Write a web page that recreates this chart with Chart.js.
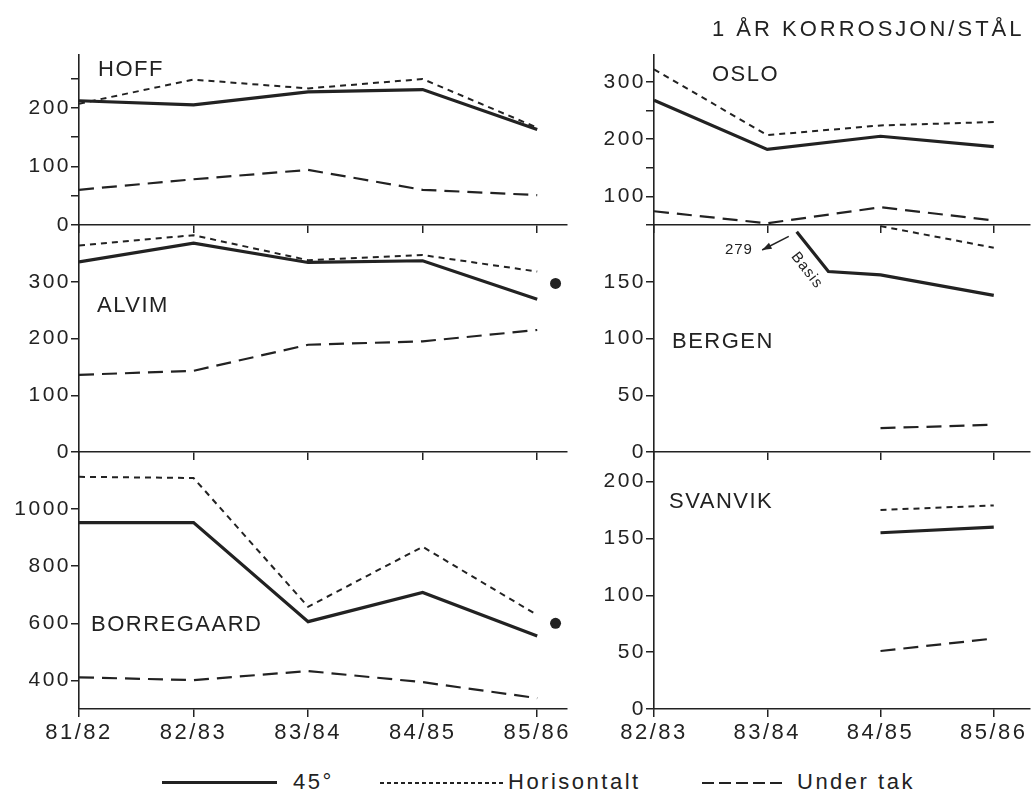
<!DOCTYPE html>
<html>
<head>
<meta charset="utf-8">
<script src="https://cdn.jsdelivr.net/npm/chart.js@4.4.1/dist/chart.umd.min.js"></script>
<style>
  html, body { margin: 0; padding: 0; background: #fff; }
  #page { position: relative; width: 1032px; height: 795px; overflow: hidden; font-family: "Liberation Sans", Arial, sans-serif; color: #222; }
  #page canvas { position: absolute; }
  .lbl { position: absolute; font-size: 22px; line-height: 22px; letter-spacing: 1.5px; white-space: nowrap; }
  .big { font-size: 22px; line-height: 22px; letter-spacing: 2.5px; }
  .key { position: absolute; }
</style>
</head>
<body>
<div id="page">
  <canvas id="hoff" width="587" height="204" style="left:0;top:35px"></canvas>
  <canvas id="alvim" width="587" height="261" style="left:0;top:205px"></canvas>
  <canvas id="borregaard" width="587" height="317" style="left:0;top:432px"></canvas>
  <canvas id="oslo" width="458" height="204" style="left:574px;top:35px"></canvas>
  <canvas id="bergen" width="458" height="261" style="left:574px;top:205px"></canvas>
  <canvas id="svanvik" width="458" height="317" style="left:574px;top:432px"></canvas>

  <div class="lbl big" style="left:712px;top:18px;letter-spacing:3px">1 ÅR KORROSJON/STÅL</div>
  <div class="lbl" style="left:98px;top:58px">HOFF</div>
  <div class="lbl" style="left:97px;top:294px">ALVIM</div>
  <div class="lbl" style="left:91px;top:613px">BORREGAARD</div>
  <div class="lbl" style="left:712px;top:63px">OSLO</div>
  <div class="lbl" style="left:672px;top:330px">BERGEN</div>
  <div class="lbl" style="left:669px;top:490px">SVANVIK</div>

  <div class="key" style="left:162px;top:781px;width:115px;height:3px;background:#222"></div>
  <div class="lbl big" style="left:293px;top:771px">45°</div>
  <div class="key" style="left:380px;top:782px;width:123px;height:2px;background:repeating-linear-gradient(to right,#222 0 4px,transparent 4px 7px)"></div>
  <div class="lbl big" style="left:508px;top:771px">Horisontalt</div>
  <div class="key" style="left:702px;top:782px;width:84px;height:2px;background:repeating-linear-gradient(to right,#222 0 12px,transparent 12px 17px)"></div>
  <div class="lbl big" style="left:797px;top:771px">Under tak</div>
</div>

<script>
const leftYears = ["81/82", "82/83", "83/84", "84/85", "85/86"];
const rightYears = ["82/83", "83/84", "84/85", "85/86"];

// HOFF
const hoff45 = [212, 205, 227, 231, 163];
const hoffHorisontalt = [207, 248, 233, 249, 166];
const hoffUnderTak = [60, 78, 94, 60, 51];
const hoffTicks = [0, 50, 100, 150, 200, 250];
const hoffLabels = [0, 100, 200];

// ALVIM
const alvim45 = [335, 368, 334, 337, 269];
const alvimHorisontalt = [364, 382, 338, 347, 318];
const alvimUnderTak = [136, 143, 189, 195, 215];
const alvimDot = 297;
const alvimTicks = [0, 100, 200, 300];

// BORREGAARD
const borregaard45 = [953, 953, 606, 708, 556];
const borregaardHorisontalt = [1113, 1109, 658, 868, 629];
const borregaardUnderTak = [411, 401, 433, 394, 338];
const borregaardDot = 600;
const borregaardTicks = [400, 600, 800, 1000];

// extra point right of 85/86 (category index)
const dotX = 4.16;

// OSLO
const oslo45 = [268, 182, 205, 187];
const osloHorisontalt = [322, 207, 224, 230];
const osloUnderTak = [74, 53, 81, 58];
const osloTicks = [50, 100, 150, 200, 250, 300];
const osloLabels = [100, 200, 300];

// BERGEN (45° starts below the off-scale 279 value)
const bergen45X = [1.26, 1.54, 2, 3];
const bergen45 = [194, 159, 156, 138];
const bergenHorisontalt = [null, null, 199, 180];
const bergenUnderTak = [null, null, 21, 24];
const bergenOffScale = 279;
const bergenTicks = [0, 50, 100, 150];

// SVANVIK
const svanvik45 = [null, null, 155, 160];
const svanvikHorisontalt = [null, null, 175, 179];
const svanvikUnderTak = [null, null, 51, 62];
const svanvikTicks = [0, 50, 100, 150, 200];

const ink = "#222";
Chart.defaults.font.family = '"Liberation Sans", Arial, sans-serif';
Chart.defaults.color = ink;

function pts(xs, ys) {
    return ys.map((y, i) => ({ x: xs[i], y: y }));
}

function lines(xs, v45, vHor, vTak, xs45) {
    return [
        { label: "45°", data: pts(xs45 || xs, v45), borderColor: ink, borderWidth: 3.2, pointRadius: 0, spanGaps: false },
        { label: "Horisontalt", data: pts(xs, vHor), borderColor: ink, borderWidth: 2, borderDash: [6, 5], pointRadius: 0, spanGaps: false },
        { label: "Under tak", data: pts(xs, vTak), borderColor: ink, borderWidth: 2.2, borderDash: [15, 8], pointRadius: 0, spanGaps: false }
    ];
}

function dot(y) {
    return { data: [{ x: dotX, y: y }], showLine: false, pointRadius: 5.5, pointBackgroundColor: ink, pointBorderWidth: 0 };
}

const spacing = {
    id: "spacing",
    beforeDraw(chart) { chart.ctx.letterSpacing = "2.5px"; }
};

const bergenNote = {
    id: "bergenNote",
    afterDatasetsDraw(chart) {
        const ctx = chart.ctx, x = chart.scales.x, y = chart.scales.y;
        ctx.save();
        ctx.fillStyle = ink;
        ctx.strokeStyle = ink;
        ctx.lineWidth = 1.6;
        ctx.font = '15px "Liberation Sans", Arial, sans-serif';
        ctx.letterSpacing = "1px";
        ctx.textAlign = "center";
        ctx.textBaseline = "middle";
        ctx.fillText(String(bergenOffScale), x.getPixelForValue(0.75), y.getPixelForValue(178));

        // arrow towards the label
        const x1 = x.getPixelForValue(1.19), y1 = y.getPixelForValue(190);
        const x2 = x.getPixelForValue(0.955), y2 = y.getPixelForValue(178);
        const a = Math.atan2(y2 - y1, x2 - x1);
        ctx.beginPath();
        ctx.moveTo(x1, y1);
        ctx.lineTo(x2, y2);
        ctx.stroke();
        ctx.beginPath();
        ctx.moveTo(x2, y2);
        ctx.lineTo(x2 - 10 * Math.cos(a - 0.35), y2 - 10 * Math.sin(a - 0.35));
        ctx.lineTo(x2 - 10 * Math.cos(a + 0.35), y2 - 10 * Math.sin(a + 0.35));
        ctx.closePath();
        ctx.fill();

        ctx.translate(x.getPixelForValue(1.35), y.getPixelForValue(160));
        ctx.rotate(52 * Math.PI / 180);
        ctx.fillText("Basis", 0, 0);
        ctx.restore();
    }
};

function makePanel(id, opts) {
    const yW = opts.right ? 80 : 79;
    const labels = opts.right ? rightYears : leftYears;
    const shown = opts.yLabels || opts.yTicks;
    new Chart(document.getElementById(id), {
        type: "line",
        data: { datasets: opts.datasets },
        options: {
            responsive: false,
            devicePixelRatio: 1,
            animation: false,
            layout: { padding: { top: 20, right: opts.right ? 2 : 20, bottom: 0, left: 0 } },
            plugins: { legend: { display: false }, tooltip: { enabled: false } },
            scales: {
                x: {
                    type: "linear",
                    min: 0,
                    max: opts.right ? 3.32 : 4.26,
                    afterBuildTicks: s => { s.ticks = labels.map((_, i) => ({ value: i })); },
                    afterFit: s => { s.height = opts.bottom ? 40 : 14; },
                    ticks: { display: !!opts.bottom, callback: v => labels[v], font: { size: 22 }, color: ink, padding: 3, maxRotation: 0, autoSkip: false },
                    grid: { drawOnChartArea: false, tickLength: 8, color: ink, lineWidth: 1.5 },
                    border: { color: ink, width: 1.6 }
                },
                y: {
                    type: "linear",
                    min: opts.yMin,
                    max: opts.yMax,
                    afterBuildTicks: s => { s.ticks = opts.yTicks.map(v => ({ value: v })); },
                    afterFit: s => { s.width = yW; },
                    ticks: { callback: v => shown.includes(v) ? String(v) : "", font: { size: 21 }, color: ink, padding: 0 },
                    grid: { drawOnChartArea: false, tickLength: 8, color: ink, lineWidth: 1.5 },
                    border: { color: ink, width: 1.6 }
                }
            }
        },
        plugins: [spacing].concat(opts.plugins || [])
    });
}

const leftX = leftYears.map((_, i) => i);
const rightX = rightYears.map((_, i) => i);

makePanel("hoff", {
    datasets: lines(leftX, hoff45, hoffHorisontalt, hoffUnderTak),
    yMin: 0, yMax: 290, yTicks: hoffTicks, yLabels: hoffLabels
});
makePanel("alvim", {
    datasets: lines(leftX, alvim45, alvimHorisontalt, alvimUnderTak).concat([dot(alvimDot)]),
    yMin: 0, yMax: 400, yTicks: alvimTicks
});
makePanel("borregaard", {
    datasets: lines(leftX, borregaard45, borregaardHorisontalt, borregaardUnderTak).concat([dot(borregaardDot)]),
    yMin: 300, yMax: 1200, yTicks: borregaardTicks, bottom: true
});
makePanel("oslo", {
    datasets: lines(rightX, oslo45, osloHorisontalt, osloUnderTak),
    yMin: 50, yMax: 347, yTicks: osloTicks, yLabels: osloLabels, right: true
});
makePanel("bergen", {
    datasets: lines(rightX, bergen45, bergenHorisontalt, bergenUnderTak, bergen45X),
    yMin: 0, yMax: 200, yTicks: bergenTicks, right: true, plugins: [bergenNote]
});
makePanel("svanvik", {
    datasets: lines(rightX, svanvik45, svanvikHorisontalt, svanvikUnderTak),
    yMin: 0, yMax: 226, yTicks: svanvikTicks, right: true, bottom: true
});
</script>
</body>
</html>
